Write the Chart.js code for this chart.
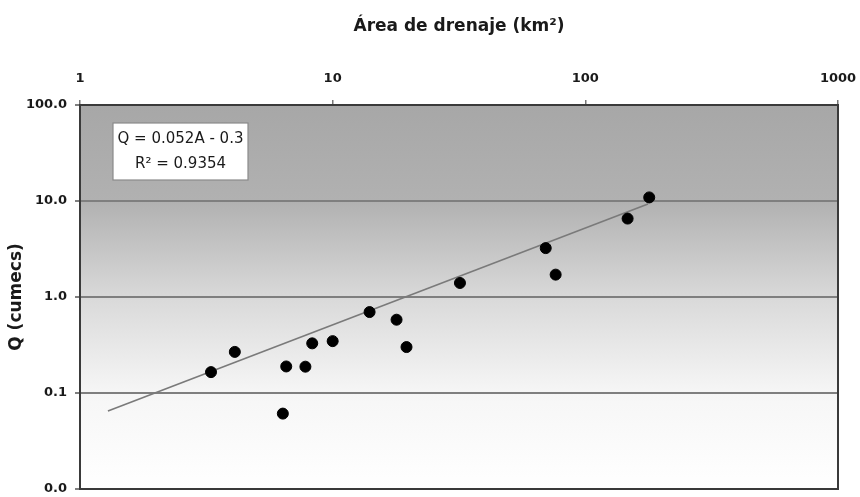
<!DOCTYPE html>
<html><head><meta charset="utf-8">
<script src="https://cdn.jsdelivr.net/npm/chart.js@4"></script>
<style>html,body{margin:0;padding:0;background:#fff}#wrap{width:860px;height:497px}</style>
</head><body><div id="wrap"><canvas id="c" width="860" height="497"></canvas></div>
<script>
// Data
const areaKm2 = [3.3, 4.1, 6.55, 7.8, 6.35, 8.3, 10.0, 14.0, 17.9, 19.6, 31.9, 69.7, 76.3, 147, 179];
const caudalQ = [0.165, 0.268, 0.189, 0.188, 0.061, 0.329, 0.347, 0.697, 0.58, 0.301, 1.40, 3.23, 1.71, 6.56, 10.9];
const trendArea = [1.29, 177];
const trendQ = [0.065, 9.3];
const xTicks = [1, 10, 100, 1000];
const yTicks = [0.01, 0.1, 1, 10, 100];
const xTitle = 'Área de drenaje (km²)';
const yTitle = 'Q (cumecs)';
const eqLines = ['Q = 0.052A - 0.3', 'R² = 0.9354'];

const FONT = '"DejaVu Sans", "Liberation Sans", Arial, sans-serif';

const bgPlugin = {
  id: 'bg',
  beforeDraw(chart) {
    const {ctx, chartArea: a} = chart;
    const g = ctx.createLinearGradient(0, a.top, 0, a.bottom);
    g.addColorStop(0, '#a7a7a7');
    g.addColorStop(0.25, '#b1b1b1');
    g.addColorStop(0.5, '#d9d9d9');
    g.addColorStop(0.75, '#f6f6f6');
    g.addColorStop(1, '#ffffff');
    ctx.save();
    ctx.fillStyle = g;
    ctx.fillRect(a.left, a.top, a.right - a.left, a.bottom - a.top);
    ctx.restore();
  }
};

const framePlugin = {
  id: 'frame',
  afterDraw(chart) {
    const {ctx, chartArea: a} = chart;
    ctx.save();
    ctx.strokeStyle = '#3a3a3a';
    ctx.lineWidth = 2;
    ctx.strokeRect(a.left, a.top, a.right - a.left, a.bottom - a.top);
    // equation box
    const bx = a.left + 33, by = a.top + 18, bw = 135, bh = 57;
    ctx.fillStyle = '#ffffff';
    ctx.fillRect(bx, by, bw, bh);
    ctx.strokeStyle = '#8a8a8a';
    ctx.lineWidth = 1.2;
    ctx.strokeRect(bx, by, bw, bh);
    ctx.fillStyle = '#1a1a1a';
    ctx.font = '15px ' + FONT;
    ctx.textAlign = 'center';
    ctx.textBaseline = 'middle';
    ctx.fillText(eqLines[0], bx + bw / 2, by + 16);
    ctx.fillText(eqLines[1], bx + bw / 2, by + 41);
    ctx.restore();
  }
};

new Chart(document.getElementById('c'), {
  data: {
    datasets: [
      {
        type: 'scatter',
        data: areaKm2.map((x, i) => ({x, y: caudalQ[i]})),
        backgroundColor: '#000000',
        borderColor: '#000000',
        pointRadius: 5.5,
        pointHoverRadius: 5.5,
        order: 1
      },
      {
        type: 'line',
        data: trendArea.map((x, i) => ({x, y: trendQ[i]})),
        borderColor: '#7a7a7a',
        borderWidth: 1.6,
        pointRadius: 0,
        fill: false,
        order: 2
      }
    ]
  },
  options: {
    responsive: false,
    animation: false,
    events: [],
    layout: {padding: {left: 0, top: 0, right: 22, bottom: 8}},
    plugins: {legend: {display: false}, tooltip: {enabled: false}, title: {display: false}},
    scales: {
      x: {
        type: 'logarithmic',
        position: 'top',
        min: 1, max: 1000,
        afterBuildTicks(s) { s.ticks = xTicks.map(v => ({value: v})); },
        afterFit(s) { s.height = 105; s.paddingLeft = 0; s.paddingRight = 0; },
        ticks: {
          color: '#1a1a1a',
          font: {family: FONT, size: 13, weight: 'bold'},
          padding: 14,
          maxRotation: 0,
          autoSkip: false,
          callback: v => String(v)
        },
        grid: {drawOnChartArea: false, drawTicks: true, tickLength: 5, color: '#777', lineWidth: 1.5},
        border: {display: false},
        title: {
          display: true,
          text: xTitle,
          color: '#1a1a1a',
          font: {family: FONT, size: 17, weight: 'bold'},
          padding: {top: 16, bottom: 0}
        }
      },
      y: {
        type: 'logarithmic',
        position: 'left',
        min: 0.01, max: 100,
        afterBuildTicks(s) { s.ticks = yTicks.map(v => ({value: v})); },
        afterFit(s) { s.width = 80; s.paddingTop = 0; s.paddingBottom = 0; },
        ticks: {
          color: '#1a1a1a',
          font: {family: FONT, size: 13, weight: 'bold'},
          padding: 8,
          autoSkip: false,
          callback: v => Number(v).toFixed(1)
        },
        grid: {drawOnChartArea: true, drawTicks: true, tickLength: 5, color: '#7f7f7f', lineWidth: 2},
        border: {display: false},
        title: {
          display: true,
          text: yTitle,
          color: '#1a1a1a',
          font: {family: FONT, size: 17, weight: 'bold'},
          padding: {top: 6, bottom: 0}
        }
      }
    }
  },
  plugins: [bgPlugin, framePlugin]
});
</script>
</body></html>
